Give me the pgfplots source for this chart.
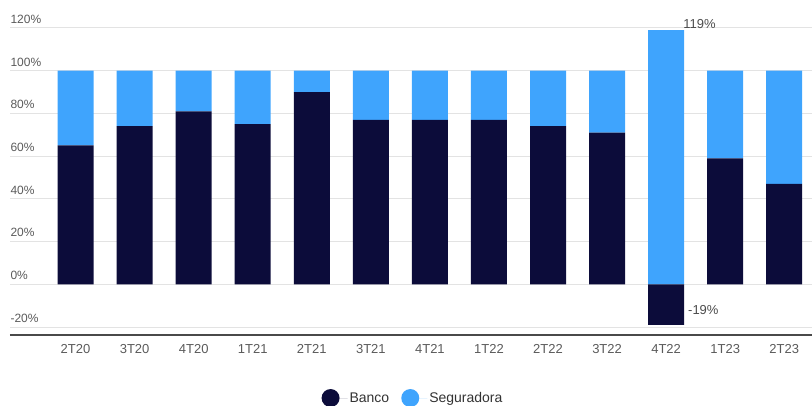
\documentclass[border=0pt]{standalone}
\usepackage{fontspec}
\setmainfont{Liberation Sans}
\usepackage{pgfplots}
\pgfplotsset{compat=1.18}

\definecolor{banco}{HTML}{0C0C3A}
\definecolor{segur}{HTML}{3FA4FD}
\definecolor{gridgray}{HTML}{E3E3E3}
\definecolor{ticktext}{HTML}{5A5A5A}
\definecolor{axisdark}{HTML}{4A4A4A}

\begin{document}
\begin{tikzpicture}[x=1pt,y=1pt]
\clip (-10,-71) rectangle (802,335);
\begin{axis}[
  at={(0,0)}, anchor=south west,
  scale only axis, width=802pt, height=325pt,
  ybar stacked, stack negative=separate,
  bar width=36pt,
  xmin=-1.11, xmax=12.47,
  ymin=-23.7, ymax=128.4,
  axis x line*=bottom, axis y line*=left,
  x axis line style={draw=axisdark, line width=2.4pt},
  y axis line style={draw=none},
  major tick length=0pt,
  xtick={0,...,12},
  xticklabels={2T20,3T20,4T20,1T21,2T21,3T21,4T21,1T22,2T22,3T22,4T22,1T23,2T23},
  ytick={-20,0,20,40,60,80,100,120},
  yticklabels={-20\%,0\%,20\%,40\%,60\%,80\%,100\%,120\%},
  ymajorgrids,
  grid style={gridgray, line width=1pt},
  xticklabel style={font=\fontsize{13}{15}\selectfont, text=ticktext, yshift=-6pt},
  yticklabel style={font=\fontsize{12}{14}\selectfont, text=ticktext, anchor=south west, xshift=-3pt, yshift=1pt},
  legend style={at={(0.5025,-0.194)}, anchor=center, draw=none, fill=none,
    font=\fontsize{14}{16}\selectfont, text=black!80,
    /tikz/every even column/.style={column sep=10pt}},
  legend columns=2,
]
% circular legend markers with some room before the entry text
\addplot[fill=banco, draw=none,
  legend image code/.code={\fill[banco] (0pt,0pt) circle (9pt); \path (0pt,0pt) -- (17pt,0pt);}]
  coordinates {(0,65) (1,74) (2,81) (3,75) (4,90) (5,77) (6,77) (7,77) (8,74) (9,71) (10,-19) (11,59) (12,47)};
\addlegendentry{Banco}
\addplot[fill=segur, draw=none,
  legend image code/.code={\fill[segur] (0pt,0pt) circle (9pt); \path (0pt,0pt) -- (17pt,0pt);}]
  coordinates {(0,35) (1,26) (2,19) (3,25) (4,10) (5,23) (6,23) (7,23) (8,26) (9,29) (10,119) (11,41) (12,53)};
\addlegendentry{Seguradora}
\node[anchor=west, inner sep=0pt, text=black!70, font=\fontsize{13}{15}\selectfont] at (axis cs:10.29,121.9) {119\%};
\node[anchor=west, inner sep=0pt, text=black!70, font=\fontsize{13}{15}\selectfont] at (axis cs:10.37,-12.0) {-19\%};
\end{axis}
\end{tikzpicture}
\end{document}
